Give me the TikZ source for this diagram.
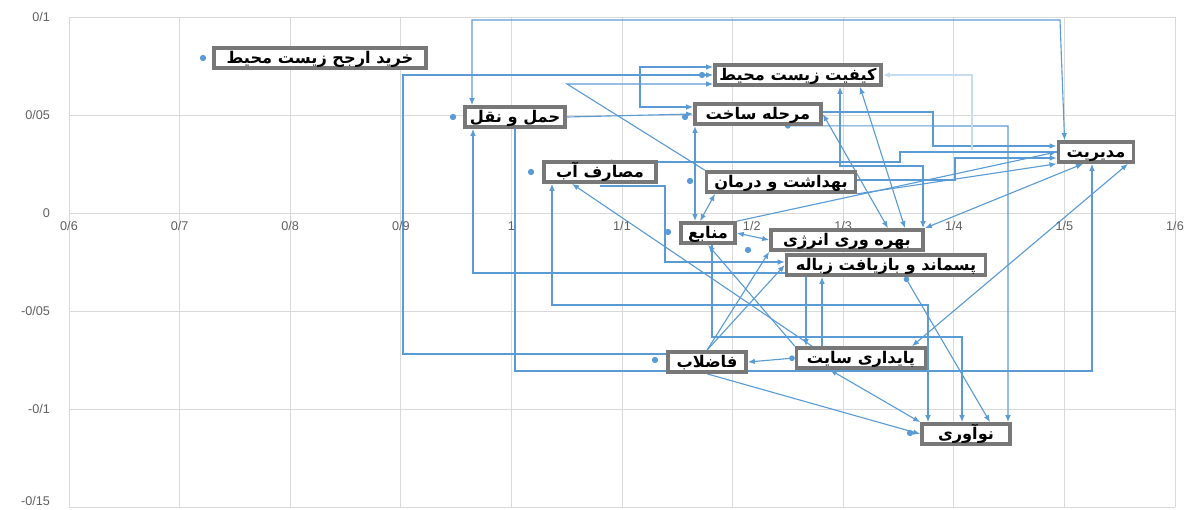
\documentclass[tikz,border=0pt]{standalone}
\usepackage{fontspec}
\setmainfont{Liberation Sans}
\newfontfamily\arabicfont[Script=Arabic]{DejaVu Sans}
\TeXXeTstate=1
\usetikzlibrary{arrows.meta,backgrounds}

\definecolor{lnk}{RGB}{91,155,213}
\definecolor{gridc}{RGB}{217,217,217}
\definecolor{boxc}{RGB}{120,120,120}
\definecolor{tickc}{RGB}{95,95,95}
\newcommand{\fa}[1]{{\arabicfont\bfseries\beginR #1\endR}}

\begin{document}
\begin{tikzpicture}[
    x=0.025cm, y=-0.025cm,
    box/.style={rectangle, draw=boxc, line width=2.6pt, fill=white, inner sep=1pt, text height=9.5pt, text depth=1pt, minimum height=0.5cm, font=\fontsize{11.5}{13}\selectfont},
    datadot/.style={circle, fill=lnk, inner sep=0pt, minimum size=4.5pt},
    ticklab/.style={font=\fontsize{9}{10}\selectfont, text=tickc},
    link/.style={draw=lnk, line width=0.8pt, -{Latex[length=5pt,width=4pt]}},
    twoway/.style={link, {Latex[length=5pt,width=4pt]}-{Latex[length=5pt,width=4pt]}},
    circ/.style={link, {Circle[length=4pt]}-{Latex[length=5pt,width=4pt]}}
]
\useasboundingbox (0,0) rectangle (1193,510);

% Axis labels
\foreach \gx/\lab in {0/{0/6},1/{0/7},2/{0/8},3/{0/9},4/{1},5/{1/1},7/{1/3},8/{1/4},9/{1/5},10/{1/6}}
    \node[ticklab] at (69+\gx*110.6,226) {\lab};
\node[ticklab, anchor=west] at (738,226) {1/2};
\foreach \gy/\lab in {0/{0/1},1/{0/05},2/{0},3/{-0/05},4/{-0/1}}
    \node[ticklab, anchor=east] at (55,17+\gy*98) {\lab};
\node[ticklab, anchor=east] at (55,501) {-0/15};

% Factors
\node[box, minimum width=5.3cm] (kharid) at (320,58) {\fa{خرید ارجح زیست محیط}};
\node[box, minimum width=2.5cm] (haml) at (515,117) {\fa{حمل و نقل}};
\node[box, minimum width=2.8cm] (masaref) at (600,172) {\fa{مصارف آب}};
\node[box, minimum width=4.15cm] (keyfiyat) at (798,75) {\fa{کیفیت زیست محیط}};
\node[box, minimum width=3.15cm] (marhale) at (758,114) {\fa{مرحله ساخت}};
\node[box, minimum width=3.72cm] (behdasht) at (781,182) {\fa{بهداشت و درمان}};
\node[box, minimum width=1.88cm] (modiriyat) at (1096,152) {\fa{مدیریت}};
\node[box, minimum width=1.35cm] (manabe) at (708,233) {\fa{منابع}};
\node[box, minimum width=3.8cm] (bahrevari) at (847,240) {\fa{بهره وری انرژی}};
\node[box, minimum width=4.97cm] (pasmand) at (886,265) {\fa{پسماند و بازیافت زباله}};
\node[box, minimum width=3.22cm] (paydari) at (861,358) {\fa{پایداری سایت}};
\node[box, minimum width=1.95cm] (fazelab) at (707,362) {\fa{فاضلاب}};
\node[box, minimum width=2.2cm] (noavari) at (966,434) {\fa{نوآوری}};

% Data points
\node[datadot] (d-kharid) at (203,58) {};
\node[datadot] (d-haml) at (453,117) {};
\node[datadot] (d-masaref) at (531,172) {};
\node[datadot] (d-keyfiyat) at (702,75) {};
\node[datadot] (d-marhale) at (685,117) {};
\node[datadot] (d-behdasht) at (690,181) {};
\node[datadot] (d-manabe) at (668,232) {};
\node[datadot] (d-bahrevari) at (748,250) {};
\node[datadot] (d-fazelab) at (655,360) {};
\node[datadot] (d-noavari) at (910,433) {};

% Routing points
\coordinate (r1) at (472,20);
\coordinate (r2) at (1060,20);
\coordinate (r4) at (403,354);
\coordinate (r5) at (515,371);
\coordinate (r6) at (1092,371);
\coordinate (r7) at (473,273);
\coordinate (r8) at (552,305);
\coordinate (r9) at (928,305);
\coordinate (r10) at (640,67);
\coordinate (r11) at (640,107);
\coordinate (r12) at (567,84);
\coordinate (r13) at (695,150);
\coordinate (r14) at (900,152);
\coordinate (r15) at (900,162);
\coordinate (r16) at (605,162);
\coordinate (r17) at (923,166);
\coordinate (r18) at (840,166);
\coordinate (r19) at (860,0);
\coordinate (r20) at (905,0);
\coordinate (r21) at (888,0);
\coordinate (r22) at (933,112);
\coordinate (r23) at (933,146);
\coordinate (r24) at (785,126);
\coordinate (r25) at (1008,126);
\coordinate (r26) at (955,180);
\coordinate (r27) at (955,158);
\coordinate (r28) at (1083,0);
\coordinate (r29) at (912,0);
\coordinate (r30) at (1128,0);
\coordinate (r32) at (830,0);
\coordinate (r34) at (990,0);
\coordinate (r35) at (712,337);
\coordinate (r36) at (962,337);
\coordinate (r37) at (822,0);
\coordinate (r38) at (806,0);
\coordinate (r39) at (572,0);
\coordinate (r40) at (812,0);
\coordinate (r41) at (665,186);
\coordinate (r42) at (665,262);
\coordinate (r43) at (700,0);
\coordinate (r44) at (715,0);
\coordinate (r45) at (972,150);

\begin{pgfonlayer}{background}
% Grid
\foreach \gx in {0,...,10}
    \draw[gridc, line width=0.7pt] (69+\gx*110.6,17) -- (69+\gx*110.6,507);
\foreach \gy in {0,...,5}
    \draw[gridc, line width=0.7pt] (69,17+\gy*98) -- (1175,17+\gy*98);

% Elbow links
\draw[twoway] (haml.north -| r1) -- (r1) -- (r2) -- ([xshift=0.2cm]modiriyat.north west);
\draw[link] (fazelab.west |- r4) -- (r4) |- (keyfiyat.west);
\draw[link] (haml.south -| r5) -- (r5) -- (r6) -- (modiriyat.south -| r6);
\draw[link] (pasmand.west |- r7) -- (r7) -- (haml.south -| r7);
\draw[twoway] (masaref.south -| r8) -- (r8) -- (r9) -- (noavari.north -| r9);
\draw[twoway] (keyfiyat.west |- r10) -- (r10) -- (r11) -- (marhale.west |- r11);
\draw[link] (behdasht.north west) -- (r12) -- (keyfiyat.west |- r12);
\draw[link] (modiriyat.west |- r14) -- (r14) -- (r15) -- (r16);
\draw[twoway] (bahrevari.north -| r17) -- (r17) -- (r18) -- (keyfiyat.south -| r18);
\draw[link] (marhale.east |- r22) -- (r22) -- (r23) -- (modiriyat.west |- r23);
\draw[circ] (marhale.south -| r24) -- (r25) -- (noavari.north -| r25);
\draw[link] (behdasht.east |- r26) -- (r26) -- (r27) -- (modiriyat.west |- r27);
\draw[link] (manabe.south -| r35) -- (r35) -- (r36) -- (noavari.north -| r36);
\draw[link] (masaref.south |- r41) -- (r41) -- (r42) -- (pasmand.west |- r42);
\draw[link, draw=lnk!35] (r45) |- (keyfiyat.east);

% Straight links
\draw[link] (haml.east) -- (marhale.west);
\draw[twoway, line width=1.6pt] (marhale.south -| r13) -- (manabe.north -| r13);
\draw[twoway] (keyfiyat.south -| r19) -- (bahrevari.north -| r20);
\draw[twoway] (marhale.east) -- (bahrevari.north -| r21);
\draw[link] (manabe.north east) -- (modiriyat.west);
\draw[link] (behdasht.south east) -- (modiriyat.south west);
\draw[twoway] (bahrevari.north east) -- (modiriyat.south -| r28);
\draw[twoway] (paydari.north -| r29) -- (modiriyat.south -| r30);
\draw[circ] (paydari.west) -- (fazelab.east);
\draw[link] (fazelab.south) -- (noavari.west);
\draw[twoway] (paydari.south -| r32) -- (noavari.north west);
\draw[circ] (pasmand.south -| r20) -- (noavari.north -| r34);
\draw[link] (paydari.north -| r37) -- (pasmand.south -| r37);
\draw[link] (pasmand.south -| r38) -- (paydari.north -| r38);
\draw[link] (fazelab.north) -- (pasmand.west);
\draw[link] (fazelab.north) -- (bahrevari.south west);
\draw[link] (paydari.north west) -- (manabe.south);
\draw[link] (paydari.north -| r40) -- (masaref.south -| r39);
\draw[twoway] (manabe.east) -- (bahrevari.west);
\draw[twoway] (manabe.north -| r43) -- (behdasht.south -| r44);
\end{pgfonlayer}

\end{tikzpicture}
\end{document}
